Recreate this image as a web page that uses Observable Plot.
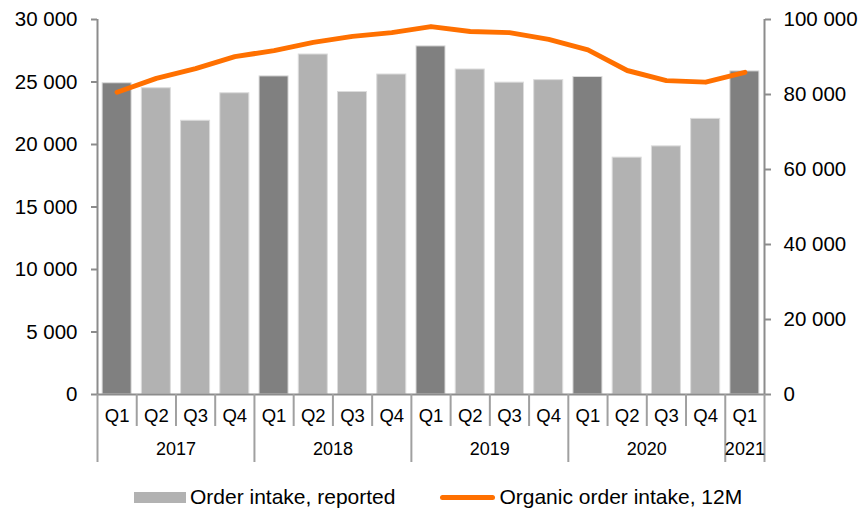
<!DOCTYPE html>
<html>
<head>
<meta charset="utf-8">
<script src="https://cdn.jsdelivr.net/npm/d3@7"></script>
<script src="https://cdn.jsdelivr.net/npm/@observablehq/plot@0.6"></script>
<style>
  body { margin: 0; background: #fff; font-family: "Liberation Sans", Arial, sans-serif; }
  #legend { display: flex; align-items: center; height: 28px; margin-top: 3px; font-size: 21px; color: #000; }
  .sw { display: inline-block; }
</style>
</head>
<body>
<div id="chart"></div>
<div id="legend"></div>
<script>
const quarters = ["Q1","Q2","Q3","Q4","Q1","Q2","Q3","Q4","Q1","Q2","Q3","Q4","Q1","Q2","Q3","Q4","Q1"];
const years    = ["2017","2017","2017","2017","2018","2018","2018","2018","2019","2019","2019","2019","2020","2020","2020","2020","2021"];
const reported = [24900,24500,21900,24100,25450,27200,24200,25600,27850,26000,24950,25150,25400,18950,19850,22050,25850];
const organic  = [80600,84300,86900,90100,91700,93900,95500,96500,98100,96800,96500,94700,91900,86400,83700,83300,85900];
const leftTicks  = [0,5000,10000,15000,20000,25000,30000];
const rightTicks = [0,20000,40000,60000,80000,100000];
const leftMax = 30000, rightMax = 100000;
const k = leftMax / rightMax;

const data = quarters.map((q, i) => ({i, q, year: years[i], reported: reported[i], organic: organic[i]}));
const yearNames = Array.from(new Set(years));
const yearGroups = yearNames.map(y => {
  const idx = data.filter(d => d.year === y).map(d => d.i);
  return {year: y, mid: d3.mean(idx), start: d3.min(idx) - 0.5, end: d3.max(idx) + 0.5};
});
const boundaries = d3.range(-0.5, data.length, 1);
const yearBounds = Array.from(new Set(yearGroups.flatMap(g => [g.start, g.end])));

const fmt = d => d3.format(",")(d).replace(/,/g, " ");
const axisColor = "#8c8c8c";

const chart = Plot.plot({
  width: 863,
  height: 480,
  marginLeft: 97,
  marginRight: 99,
  marginTop: 19,
  marginBottom: 86,
  style: {fontFamily: "'Liberation Sans', Arial, sans-serif", color: "#000", background: "#fff"},
  x: {type: "linear", domain: [-0.5, data.length - 0.5], axis: null, label: null},
  y: {domain: [0, leftMax], axis: null, label: null},
  marks: [
    Plot.rectY(data, {
      x1: d => d.i - 0.37, x2: d => d.i + 0.37, y: "reported",
      fill: d => d.q === "Q1" ? "#808080" : "#b2b2b2",
      stroke: "#dcdcdc", strokeWidth: 1
    }),
    Plot.line(data, {x: "i", y: d => d.organic * k, stroke: "#ff7000", strokeWidth: 5, strokeLinejoin: "round", strokeLinecap: "round"}),
    Plot.ruleX([-0.5, data.length - 0.5], {y1: 0, y2: leftMax, stroke: axisColor, strokeWidth: 2}),
    Plot.ruleY([0], {x1: -0.5, x2: data.length - 0.5, stroke: axisColor, strokeWidth: 2}),
    Plot.axisY(leftTicks, {anchor: "left", label: null, tickFormat: fmt, tickSize: 6, tickPadding: 14, fontSize: 20.5, stroke: axisColor, strokeWidth: 2}),
    Plot.axisY(rightTicks.map(v => v * k), {anchor: "right", label: null, tickFormat: d => fmt(Math.round(d / k)), tickSize: 6, tickPadding: 13, fontSize: 20.5, stroke: axisColor, strokeWidth: 2}),
    Plot.ruleX(boundaries.filter(b => !yearBounds.includes(b)), {y1: 0, y2: 0, insetBottom: -32, stroke: "#a0a0a0", strokeWidth: 2}),
    Plot.ruleX(yearBounds, {y1: 0, y2: 0, insetBottom: -68, stroke: "#a0a0a0", strokeWidth: 2}),
    Plot.text(data, {x: "i", y: 0, text: "q", dy: 22, fontSize: 18.5, fill: "#000"}),
    Plot.text(yearGroups, {x: "mid", y: 0, text: "year", dy: 55, fontSize: 18, fill: "#000"})
  ]
});
document.getElementById("chart").appendChild(chart);

const legend = document.getElementById("legend");
legend.innerHTML = `
  <span class="sw" style="margin-left:134px;width:52px;height:11px;background:#b2b2b2"></span>
  <span style="margin-left:4px">Order intake, reported</span>
  <span class="sw" style="margin-left:45px;width:55px;height:5px;background:#ff7000;border-radius:3px"></span>
  <span style="margin-left:4px">Organic order intake, 12M</span>`;
</script>
</body>
</html>
